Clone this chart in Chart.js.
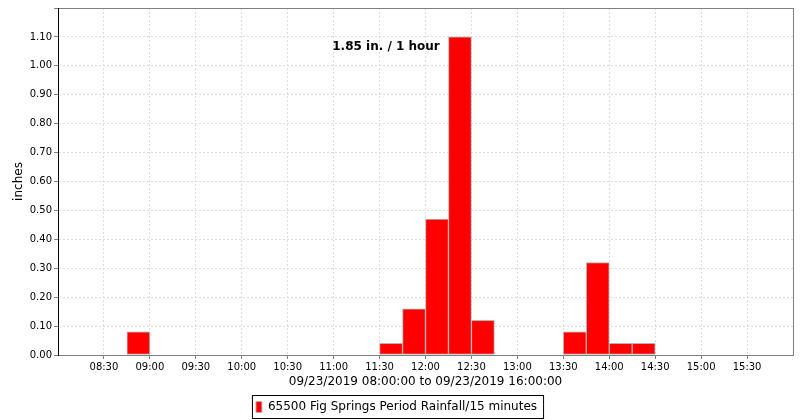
<!DOCTYPE html>
<html>
<head>
<meta charset="utf-8">
<script src="https://cdn.jsdelivr.net/npm/chart.js@4.4.1/dist/chart.umd.min.js"></script>
<style>
  html, body { margin: 0; padding: 0; background: #fff; }
  #wrap { width: 800px; height: 420px; }
</style>
</head>
<body>
<div id="wrap"><canvas id="rainChart" width="800" height="420"></canvas></div>
<script>
// 15 minute periods, start time of each period
const periodStarts = [
    '08:00', '08:15', '08:30', '08:45', '09:00', '09:15', '09:30', '09:45',
    '10:00', '10:15', '10:30', '10:45', '11:00', '11:15', '11:30', '11:45',
    '12:00', '12:15', '12:30', '12:45', '13:00', '13:15', '13:30', '13:45',
    '14:00', '14:15', '14:30', '14:45', '15:00', '15:15', '15:30', '15:45'
];
// rainfall per period (inches)
const rainfall = [
    0, 0, 0, 0.08, 0, 0, 0, 0,
    0, 0, 0, 0, 0, 0, 0.04, 0.16,
    0.47, 1.10, 0.12, 0, 0, 0, 0.08, 0.32,
    0.04, 0.04, 0, 0, 0, 0, 0, 0
];
const xTickLabels = ['08:30', '09:00', '09:30', '10:00', '10:30', '11:00', '11:30', '12:00',
    '12:30', '13:00', '13:30', '14:00', '14:30', '15:00', '15:30'];
const seriesName = '65500 Fig Springs Period Rainfall/15 minutes';
const rangeTitle = '09/23/2019 08:00:00 to 09/23/2019 16:00:00';
const peakNote = '1.85 in. / 1 hour';

const FONT = "'DejaVu Sans', sans-serif";

// minutes after 08:00
function toMinutes(hhmm) {
    let [h, m] = hhmm.split(':');
    return (Number(h) - 8) * 60 + Number(m);
}
function fmtMinutes(v) {
    const t = 8 * 60 + v;
    const h = Math.floor(t / 60), m = t % 60;
    return String(h).padStart(2, '0') + ':' + String(m).padStart(2, '0');
}

const points = periodStarts.map((s, i) => ({ x: toMinutes(s) + 7.5, y: rainfall[i] }));
const tickValues = xTickLabels.map(toMinutes);

// plot outline, axis lines, peak note and legend frame
const framePlugin = {
    id: 'frame',
    afterDraw(chart) {
        const { ctx, chartArea: a } = chart;
        ctx.save();
        ctx.setLineDash([]);
        ctx.lineWidth = 1;
        ctx.strokeStyle = '#808080';
        ctx.strokeRect(a.left + 0.5, a.top + 0.5, a.right - a.left, a.bottom - a.top);
        ctx.strokeStyle = '#000';
        ctx.beginPath();
        ctx.moveTo(a.left + 0.5, a.top);
        ctx.lineTo(a.left + 0.5, a.bottom + 1);
        ctx.stroke();

        // peak note
        ctx.fillStyle = '#000';
        ctx.font = 'bold 12px ' + FONT;
        ctx.textAlign = 'center';
        ctx.textBaseline = 'middle';
        ctx.fillText(peakNote, 386, 47);

        // legend frame
        const lg = chart.legend;
        if (lg && lg.legendHitBoxes.length) {
            const hb = lg.legendHitBoxes[0];
            ctx.strokeStyle = '#000';
            ctx.strokeRect(hb.left - 3.5, hb.top - 5.5, hb.width + 10, hb.height + 11);
        }
        ctx.restore();
    }
};

const ctx = document.getElementById('rainChart');
new Chart(ctx, {
    type: 'bar',
    data: {
        datasets: [{
            label: seriesName,
            data: points,
            backgroundColor: '#ff0000',
            borderColor: '#b4b4b4',
            borderWidth: 1,
            borderSkipped: false,
            barPercentage: 1,
            categoryPercentage: 1
        }]
    },
    options: {
        animation: false,
        responsive: false,
        devicePixelRatio: 1,
        layout: { padding: { top: 3, right: 7, left: 0, bottom: -3 } },
        scales: {
            x: {
                type: 'linear',
                min: 0,
                max: 480,
                offset: false,
                afterBuildTicks: s => { s.ticks = tickValues.map(v => ({ value: v })); },
                afterFit: s => { s.height = 38; },
                ticks: {
                    autoSkip: false,
                    maxRotation: 0,
                    padding: 2,
                    color: '#000',
                    font: { family: FONT, size: 10 },
                    callback: v => fmtMinutes(v)
                },
                grid: {
                    color: '#dcdcdc',
                    tickColor: '#808080',
                    tickLength: 4,
                    tickBorderDash: [],
                    offset: false
                },
                border: { color: '#808080', dash: [2, 2] },
                title: {
                    display: true,
                    text: rangeTitle,
                    color: '#000',
                    font: { family: FONT, size: 12 },
                    padding: { top: 0, bottom: 4 }
                }
            },
            y: {
                min: 0,
                max: 1.2,
                afterBuildTicks: s => {
                    s.ticks = [];
                    for (let i = 0; i <= 12; i++) s.ticks.push({ value: i / 10 });
                },
                afterFit: s => { s.width = 58; },
                ticks: {
                    padding: 2,
                    color: '#000',
                    font: { family: FONT, size: 10 },
                    callback: v => v > 1.15 ? '' : Number(v).toFixed(2)
                },
                grid: {
                    color: '#dcdcdc',
                    tickColor: '#808080',
                    tickLength: 4,
                    tickBorderDash: []
                },
                border: { color: '#000', dash: [2, 2] },
                title: {
                    display: true,
                    text: 'inches',
                    color: '#000',
                    font: { family: FONT, size: 12 },
                    padding: { top: 12, bottom: 4 }
                }
            }
        },
        plugins: {
            legend: {
                position: 'bottom',
                labels: {
                    boxWidth: 6,
                    boxHeight: 11,
                    padding: 8,
                    color: '#000',
                    font: { family: FONT, size: 12 }
                }
            },
            tooltip: { enabled: false }
        }
    },
    plugins: [framePlugin]
});
</script>
</body>
</html>
